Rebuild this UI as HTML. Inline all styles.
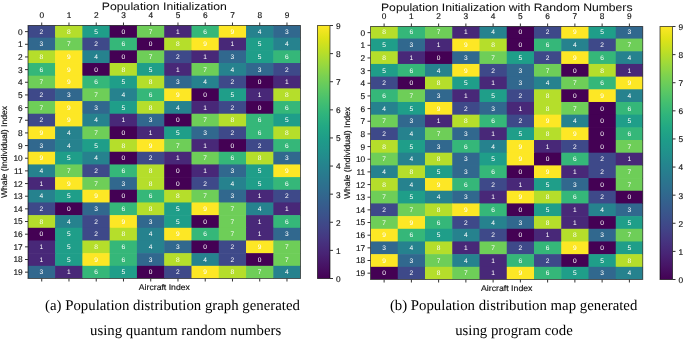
<!DOCTYPE html>
<html><head><meta charset="utf-8"><title>Population Initialization</title><style>
html,body{margin:0;padding:0;background:#fff;}
body{width:685px;height:339px;overflow:hidden;}
svg{display:block;will-change:transform;}
text{font-family:"Liberation Sans",sans-serif;text-rendering:geometricPrecision;}
.ann{font-size:6.6px;fill:#fff;text-anchor:middle;}
.tl{font-size:8.3px;fill:#111;stroke:#111;stroke-width:0.15px;}
.tt{font-size:10.8px;fill:#111;stroke:#111;stroke-width:0.05px;}
.lb{font-size:8.3px;fill:#111;stroke:#111;stroke-width:0.15px;}
.cp{font-family:"Liberation Serif",serif;font-size:14.8px;fill:#000;}
.tk{stroke:#333;stroke-width:1.0;}
</style></head>
<body><svg width="685" height="339" viewBox="0 0 685 339"><defs><filter id="soft" x="-5%" y="-5%" width="110%" height="110%"><feGaussianBlur stdDeviation="0.25"/></filter><linearGradient id="vir" x1="0" y1="0" x2="0" y2="1"><stop offset="0.000" stop-color="#fde725"/><stop offset="0.050" stop-color="#dfe318"/><stop offset="0.100" stop-color="#bddf26"/><stop offset="0.150" stop-color="#9bd93c"/><stop offset="0.200" stop-color="#7ad151"/><stop offset="0.250" stop-color="#5ec962"/><stop offset="0.300" stop-color="#44bf70"/><stop offset="0.350" stop-color="#2fb47c"/><stop offset="0.400" stop-color="#22a884"/><stop offset="0.450" stop-color="#1e9c89"/><stop offset="0.500" stop-color="#21918c"/><stop offset="0.550" stop-color="#25848e"/><stop offset="0.600" stop-color="#2a788e"/><stop offset="0.650" stop-color="#2f6c8e"/><stop offset="0.700" stop-color="#355f8d"/><stop offset="0.750" stop-color="#3b528b"/><stop offset="0.800" stop-color="#414487"/><stop offset="0.850" stop-color="#463480"/><stop offset="0.900" stop-color="#482475"/><stop offset="0.950" stop-color="#471365"/><stop offset="1.000" stop-color="#440154"/></linearGradient></defs><rect width="685" height="339" fill="#fff"/><clipPath id="clipL"><rect x="28.0" y="25.5" width="272.5" height="253.0"/></clipPath><g clip-path="url(#clipL)"><rect x="27.800" y="25.000" width="27.880" height="13.275" fill="#3e4989"/><rect x="55.080" y="25.000" width="27.880" height="13.275" fill="#b5de2b"/><rect x="82.360" y="25.000" width="27.880" height="13.275" fill="#1f9e89"/><rect x="109.640" y="25.000" width="27.880" height="13.275" fill="#440154"/><rect x="136.920" y="25.000" width="27.880" height="13.275" fill="#6ece58"/><rect x="164.200" y="25.000" width="27.880" height="13.275" fill="#482878"/><rect x="191.480" y="25.000" width="27.880" height="13.275" fill="#35b779"/><rect x="218.760" y="25.000" width="27.880" height="13.275" fill="#fde725"/><rect x="246.040" y="25.000" width="27.880" height="13.275" fill="#26828e"/><rect x="273.320" y="25.000" width="27.280" height="13.275" fill="#31688e"/><rect x="27.800" y="37.675" width="27.880" height="13.275" fill="#31688e"/><rect x="55.080" y="37.675" width="27.880" height="13.275" fill="#6ece58"/><rect x="82.360" y="37.675" width="27.880" height="13.275" fill="#3e4989"/><rect x="109.640" y="37.675" width="27.880" height="13.275" fill="#35b779"/><rect x="136.920" y="37.675" width="27.880" height="13.275" fill="#440154"/><rect x="164.200" y="37.675" width="27.880" height="13.275" fill="#b5de2b"/><rect x="191.480" y="37.675" width="27.880" height="13.275" fill="#fde725"/><rect x="218.760" y="37.675" width="27.880" height="13.275" fill="#482878"/><rect x="246.040" y="37.675" width="27.880" height="13.275" fill="#1f9e89"/><rect x="273.320" y="37.675" width="27.280" height="13.275" fill="#26828e"/><rect x="27.800" y="50.350" width="27.880" height="13.275" fill="#b5de2b"/><rect x="55.080" y="50.350" width="27.880" height="13.275" fill="#fde725"/><rect x="82.360" y="50.350" width="27.880" height="13.275" fill="#26828e"/><rect x="109.640" y="50.350" width="27.880" height="13.275" fill="#440154"/><rect x="136.920" y="50.350" width="27.880" height="13.275" fill="#6ece58"/><rect x="164.200" y="50.350" width="27.880" height="13.275" fill="#3e4989"/><rect x="191.480" y="50.350" width="27.880" height="13.275" fill="#482878"/><rect x="218.760" y="50.350" width="27.880" height="13.275" fill="#31688e"/><rect x="246.040" y="50.350" width="27.880" height="13.275" fill="#1f9e89"/><rect x="273.320" y="50.350" width="27.280" height="13.275" fill="#35b779"/><rect x="27.800" y="63.025" width="27.880" height="13.275" fill="#35b779"/><rect x="55.080" y="63.025" width="27.880" height="13.275" fill="#fde725"/><rect x="82.360" y="63.025" width="27.880" height="13.275" fill="#440154"/><rect x="109.640" y="63.025" width="27.880" height="13.275" fill="#b5de2b"/><rect x="136.920" y="63.025" width="27.880" height="13.275" fill="#1f9e89"/><rect x="164.200" y="63.025" width="27.880" height="13.275" fill="#482878"/><rect x="191.480" y="63.025" width="27.880" height="13.275" fill="#6ece58"/><rect x="218.760" y="63.025" width="27.880" height="13.275" fill="#26828e"/><rect x="246.040" y="63.025" width="27.880" height="13.275" fill="#31688e"/><rect x="273.320" y="63.025" width="27.280" height="13.275" fill="#3e4989"/><rect x="27.800" y="75.700" width="27.880" height="13.275" fill="#6ece58"/><rect x="55.080" y="75.700" width="27.880" height="13.275" fill="#fde725"/><rect x="82.360" y="75.700" width="27.880" height="13.275" fill="#35b779"/><rect x="109.640" y="75.700" width="27.880" height="13.275" fill="#1f9e89"/><rect x="136.920" y="75.700" width="27.880" height="13.275" fill="#b5de2b"/><rect x="164.200" y="75.700" width="27.880" height="13.275" fill="#31688e"/><rect x="191.480" y="75.700" width="27.880" height="13.275" fill="#26828e"/><rect x="218.760" y="75.700" width="27.880" height="13.275" fill="#3e4989"/><rect x="246.040" y="75.700" width="27.880" height="13.275" fill="#440154"/><rect x="273.320" y="75.700" width="27.280" height="13.275" fill="#482878"/><rect x="27.800" y="88.375" width="27.880" height="13.275" fill="#3e4989"/><rect x="55.080" y="88.375" width="27.880" height="13.275" fill="#31688e"/><rect x="82.360" y="88.375" width="27.880" height="13.275" fill="#6ece58"/><rect x="109.640" y="88.375" width="27.880" height="13.275" fill="#26828e"/><rect x="136.920" y="88.375" width="27.880" height="13.275" fill="#35b779"/><rect x="164.200" y="88.375" width="27.880" height="13.275" fill="#fde725"/><rect x="191.480" y="88.375" width="27.880" height="13.275" fill="#440154"/><rect x="218.760" y="88.375" width="27.880" height="13.275" fill="#1f9e89"/><rect x="246.040" y="88.375" width="27.880" height="13.275" fill="#482878"/><rect x="273.320" y="88.375" width="27.280" height="13.275" fill="#b5de2b"/><rect x="27.800" y="101.050" width="27.880" height="13.275" fill="#6ece58"/><rect x="55.080" y="101.050" width="27.880" height="13.275" fill="#fde725"/><rect x="82.360" y="101.050" width="27.880" height="13.275" fill="#31688e"/><rect x="109.640" y="101.050" width="27.880" height="13.275" fill="#1f9e89"/><rect x="136.920" y="101.050" width="27.880" height="13.275" fill="#b5de2b"/><rect x="164.200" y="101.050" width="27.880" height="13.275" fill="#26828e"/><rect x="191.480" y="101.050" width="27.880" height="13.275" fill="#482878"/><rect x="218.760" y="101.050" width="27.880" height="13.275" fill="#3e4989"/><rect x="246.040" y="101.050" width="27.880" height="13.275" fill="#440154"/><rect x="273.320" y="101.050" width="27.280" height="13.275" fill="#35b779"/><rect x="27.800" y="113.725" width="27.880" height="13.275" fill="#3e4989"/><rect x="55.080" y="113.725" width="27.880" height="13.275" fill="#fde725"/><rect x="82.360" y="113.725" width="27.880" height="13.275" fill="#26828e"/><rect x="109.640" y="113.725" width="27.880" height="13.275" fill="#482878"/><rect x="136.920" y="113.725" width="27.880" height="13.275" fill="#31688e"/><rect x="164.200" y="113.725" width="27.880" height="13.275" fill="#440154"/><rect x="191.480" y="113.725" width="27.880" height="13.275" fill="#6ece58"/><rect x="218.760" y="113.725" width="27.880" height="13.275" fill="#b5de2b"/><rect x="246.040" y="113.725" width="27.880" height="13.275" fill="#35b779"/><rect x="273.320" y="113.725" width="27.280" height="13.275" fill="#1f9e89"/><rect x="27.800" y="126.400" width="27.880" height="13.275" fill="#fde725"/><rect x="55.080" y="126.400" width="27.880" height="13.275" fill="#26828e"/><rect x="82.360" y="126.400" width="27.880" height="13.275" fill="#6ece58"/><rect x="109.640" y="126.400" width="27.880" height="13.275" fill="#440154"/><rect x="136.920" y="126.400" width="27.880" height="13.275" fill="#482878"/><rect x="164.200" y="126.400" width="27.880" height="13.275" fill="#1f9e89"/><rect x="191.480" y="126.400" width="27.880" height="13.275" fill="#31688e"/><rect x="218.760" y="126.400" width="27.880" height="13.275" fill="#3e4989"/><rect x="246.040" y="126.400" width="27.880" height="13.275" fill="#35b779"/><rect x="273.320" y="126.400" width="27.280" height="13.275" fill="#b5de2b"/><rect x="27.800" y="139.075" width="27.880" height="13.275" fill="#31688e"/><rect x="55.080" y="139.075" width="27.880" height="13.275" fill="#26828e"/><rect x="82.360" y="139.075" width="27.880" height="13.275" fill="#1f9e89"/><rect x="109.640" y="139.075" width="27.880" height="13.275" fill="#b5de2b"/><rect x="136.920" y="139.075" width="27.880" height="13.275" fill="#fde725"/><rect x="164.200" y="139.075" width="27.880" height="13.275" fill="#6ece58"/><rect x="191.480" y="139.075" width="27.880" height="13.275" fill="#482878"/><rect x="218.760" y="139.075" width="27.880" height="13.275" fill="#440154"/><rect x="246.040" y="139.075" width="27.880" height="13.275" fill="#3e4989"/><rect x="273.320" y="139.075" width="27.280" height="13.275" fill="#35b779"/><rect x="27.800" y="151.750" width="27.880" height="13.275" fill="#fde725"/><rect x="55.080" y="151.750" width="27.880" height="13.275" fill="#1f9e89"/><rect x="82.360" y="151.750" width="27.880" height="13.275" fill="#26828e"/><rect x="109.640" y="151.750" width="27.880" height="13.275" fill="#440154"/><rect x="136.920" y="151.750" width="27.880" height="13.275" fill="#3e4989"/><rect x="164.200" y="151.750" width="27.880" height="13.275" fill="#482878"/><rect x="191.480" y="151.750" width="27.880" height="13.275" fill="#6ece58"/><rect x="218.760" y="151.750" width="27.880" height="13.275" fill="#35b779"/><rect x="246.040" y="151.750" width="27.880" height="13.275" fill="#b5de2b"/><rect x="273.320" y="151.750" width="27.280" height="13.275" fill="#31688e"/><rect x="27.800" y="164.425" width="27.880" height="13.275" fill="#26828e"/><rect x="55.080" y="164.425" width="27.880" height="13.275" fill="#6ece58"/><rect x="82.360" y="164.425" width="27.880" height="13.275" fill="#3e4989"/><rect x="109.640" y="164.425" width="27.880" height="13.275" fill="#35b779"/><rect x="136.920" y="164.425" width="27.880" height="13.275" fill="#b5de2b"/><rect x="164.200" y="164.425" width="27.880" height="13.275" fill="#440154"/><rect x="191.480" y="164.425" width="27.880" height="13.275" fill="#482878"/><rect x="218.760" y="164.425" width="27.880" height="13.275" fill="#31688e"/><rect x="246.040" y="164.425" width="27.880" height="13.275" fill="#1f9e89"/><rect x="273.320" y="164.425" width="27.280" height="13.275" fill="#fde725"/><rect x="27.800" y="177.100" width="27.880" height="13.275" fill="#482878"/><rect x="55.080" y="177.100" width="27.880" height="13.275" fill="#fde725"/><rect x="82.360" y="177.100" width="27.880" height="13.275" fill="#6ece58"/><rect x="109.640" y="177.100" width="27.880" height="13.275" fill="#31688e"/><rect x="136.920" y="177.100" width="27.880" height="13.275" fill="#b5de2b"/><rect x="164.200" y="177.100" width="27.880" height="13.275" fill="#440154"/><rect x="191.480" y="177.100" width="27.880" height="13.275" fill="#3e4989"/><rect x="218.760" y="177.100" width="27.880" height="13.275" fill="#26828e"/><rect x="246.040" y="177.100" width="27.880" height="13.275" fill="#1f9e89"/><rect x="273.320" y="177.100" width="27.280" height="13.275" fill="#35b779"/><rect x="27.800" y="189.775" width="27.880" height="13.275" fill="#26828e"/><rect x="55.080" y="189.775" width="27.880" height="13.275" fill="#1f9e89"/><rect x="82.360" y="189.775" width="27.880" height="13.275" fill="#fde725"/><rect x="109.640" y="189.775" width="27.880" height="13.275" fill="#440154"/><rect x="136.920" y="189.775" width="27.880" height="13.275" fill="#35b779"/><rect x="164.200" y="189.775" width="27.880" height="13.275" fill="#b5de2b"/><rect x="191.480" y="189.775" width="27.880" height="13.275" fill="#6ece58"/><rect x="218.760" y="189.775" width="27.880" height="13.275" fill="#31688e"/><rect x="246.040" y="189.775" width="27.880" height="13.275" fill="#482878"/><rect x="273.320" y="189.775" width="27.280" height="13.275" fill="#3e4989"/><rect x="27.800" y="202.450" width="27.880" height="13.275" fill="#3e4989"/><rect x="55.080" y="202.450" width="27.880" height="13.275" fill="#440154"/><rect x="82.360" y="202.450" width="27.880" height="13.275" fill="#31688e"/><rect x="109.640" y="202.450" width="27.880" height="13.275" fill="#35b779"/><rect x="136.920" y="202.450" width="27.880" height="13.275" fill="#b5de2b"/><rect x="164.200" y="202.450" width="27.880" height="13.275" fill="#1f9e89"/><rect x="191.480" y="202.450" width="27.880" height="13.275" fill="#fde725"/><rect x="218.760" y="202.450" width="27.880" height="13.275" fill="#6ece58"/><rect x="246.040" y="202.450" width="27.880" height="13.275" fill="#26828e"/><rect x="273.320" y="202.450" width="27.280" height="13.275" fill="#482878"/><rect x="27.800" y="215.125" width="27.880" height="13.275" fill="#b5de2b"/><rect x="55.080" y="215.125" width="27.880" height="13.275" fill="#26828e"/><rect x="82.360" y="215.125" width="27.880" height="13.275" fill="#3e4989"/><rect x="109.640" y="215.125" width="27.880" height="13.275" fill="#fde725"/><rect x="136.920" y="215.125" width="27.880" height="13.275" fill="#31688e"/><rect x="164.200" y="215.125" width="27.880" height="13.275" fill="#1f9e89"/><rect x="191.480" y="215.125" width="27.880" height="13.275" fill="#440154"/><rect x="218.760" y="215.125" width="27.880" height="13.275" fill="#6ece58"/><rect x="246.040" y="215.125" width="27.880" height="13.275" fill="#482878"/><rect x="273.320" y="215.125" width="27.280" height="13.275" fill="#35b779"/><rect x="27.800" y="227.800" width="27.880" height="13.275" fill="#440154"/><rect x="55.080" y="227.800" width="27.880" height="13.275" fill="#1f9e89"/><rect x="82.360" y="227.800" width="27.880" height="13.275" fill="#3e4989"/><rect x="109.640" y="227.800" width="27.880" height="13.275" fill="#b5de2b"/><rect x="136.920" y="227.800" width="27.880" height="13.275" fill="#26828e"/><rect x="164.200" y="227.800" width="27.880" height="13.275" fill="#fde725"/><rect x="191.480" y="227.800" width="27.880" height="13.275" fill="#35b779"/><rect x="218.760" y="227.800" width="27.880" height="13.275" fill="#6ece58"/><rect x="246.040" y="227.800" width="27.880" height="13.275" fill="#482878"/><rect x="273.320" y="227.800" width="27.280" height="13.275" fill="#31688e"/><rect x="27.800" y="240.475" width="27.880" height="13.275" fill="#482878"/><rect x="55.080" y="240.475" width="27.880" height="13.275" fill="#1f9e89"/><rect x="82.360" y="240.475" width="27.880" height="13.275" fill="#b5de2b"/><rect x="109.640" y="240.475" width="27.880" height="13.275" fill="#35b779"/><rect x="136.920" y="240.475" width="27.880" height="13.275" fill="#26828e"/><rect x="164.200" y="240.475" width="27.880" height="13.275" fill="#31688e"/><rect x="191.480" y="240.475" width="27.880" height="13.275" fill="#440154"/><rect x="218.760" y="240.475" width="27.880" height="13.275" fill="#3e4989"/><rect x="246.040" y="240.475" width="27.880" height="13.275" fill="#fde725"/><rect x="273.320" y="240.475" width="27.280" height="13.275" fill="#6ece58"/><rect x="27.800" y="253.150" width="27.880" height="13.275" fill="#482878"/><rect x="55.080" y="253.150" width="27.880" height="13.275" fill="#1f9e89"/><rect x="82.360" y="253.150" width="27.880" height="13.275" fill="#fde725"/><rect x="109.640" y="253.150" width="27.880" height="13.275" fill="#35b779"/><rect x="136.920" y="253.150" width="27.880" height="13.275" fill="#31688e"/><rect x="164.200" y="253.150" width="27.880" height="13.275" fill="#b5de2b"/><rect x="191.480" y="253.150" width="27.880" height="13.275" fill="#26828e"/><rect x="218.760" y="253.150" width="27.880" height="13.275" fill="#3e4989"/><rect x="246.040" y="253.150" width="27.880" height="13.275" fill="#440154"/><rect x="273.320" y="253.150" width="27.280" height="13.275" fill="#6ece58"/><rect x="27.800" y="265.825" width="27.880" height="12.675" fill="#31688e"/><rect x="55.080" y="265.825" width="27.880" height="12.675" fill="#482878"/><rect x="82.360" y="265.825" width="27.880" height="12.675" fill="#35b779"/><rect x="109.640" y="265.825" width="27.880" height="12.675" fill="#1f9e89"/><rect x="136.920" y="265.825" width="27.880" height="12.675" fill="#440154"/><rect x="164.200" y="265.825" width="27.880" height="12.675" fill="#3e4989"/><rect x="191.480" y="265.825" width="27.880" height="12.675" fill="#fde725"/><rect x="218.760" y="265.825" width="27.880" height="12.675" fill="#b5de2b"/><rect x="246.040" y="265.825" width="27.880" height="12.675" fill="#6ece58"/><rect x="273.320" y="265.825" width="27.280" height="12.675" fill="#26828e"/></g><g filter="url(#soft)"><text class="ann" x="41.44" y="33.58">2</text><text class="ann" x="68.72" y="33.58">8</text><text class="ann" x="96.00" y="33.58">5</text><text class="ann" x="123.28" y="33.58">0</text><text class="ann" x="150.56" y="33.58">7</text><text class="ann" x="177.84" y="33.58">1</text><text class="ann" x="205.12" y="33.58">6</text><text class="ann" x="232.40" y="33.58">9</text><text class="ann" x="259.68" y="33.58">4</text><text class="ann" x="286.96" y="33.58">3</text><text class="ann" x="41.44" y="46.26">3</text><text class="ann" x="68.72" y="46.26">7</text><text class="ann" x="96.00" y="46.26">2</text><text class="ann" x="123.28" y="46.26">6</text><text class="ann" x="150.56" y="46.26">0</text><text class="ann" x="177.84" y="46.26">8</text><text class="ann" x="205.12" y="46.26">9</text><text class="ann" x="232.40" y="46.26">1</text><text class="ann" x="259.68" y="46.26">5</text><text class="ann" x="286.96" y="46.26">4</text><text class="ann" x="41.44" y="58.93">8</text><text class="ann" x="68.72" y="58.93">9</text><text class="ann" x="96.00" y="58.93">4</text><text class="ann" x="123.28" y="58.93">0</text><text class="ann" x="150.56" y="58.93">7</text><text class="ann" x="177.84" y="58.93">2</text><text class="ann" x="205.12" y="58.93">1</text><text class="ann" x="232.40" y="58.93">3</text><text class="ann" x="259.68" y="58.93">5</text><text class="ann" x="286.96" y="58.93">6</text><text class="ann" x="41.44" y="71.61">6</text><text class="ann" x="68.72" y="71.61">9</text><text class="ann" x="96.00" y="71.61">0</text><text class="ann" x="123.28" y="71.61">8</text><text class="ann" x="150.56" y="71.61">5</text><text class="ann" x="177.84" y="71.61">1</text><text class="ann" x="205.12" y="71.61">7</text><text class="ann" x="232.40" y="71.61">4</text><text class="ann" x="259.68" y="71.61">3</text><text class="ann" x="286.96" y="71.61">2</text><text class="ann" x="41.44" y="84.28">7</text><text class="ann" x="68.72" y="84.28">9</text><text class="ann" x="96.00" y="84.28">6</text><text class="ann" x="123.28" y="84.28">5</text><text class="ann" x="150.56" y="84.28">8</text><text class="ann" x="177.84" y="84.28">3</text><text class="ann" x="205.12" y="84.28">4</text><text class="ann" x="232.40" y="84.28">2</text><text class="ann" x="259.68" y="84.28">0</text><text class="ann" x="286.96" y="84.28">1</text><text class="ann" x="41.44" y="96.96">2</text><text class="ann" x="68.72" y="96.96">3</text><text class="ann" x="96.00" y="96.96">7</text><text class="ann" x="123.28" y="96.96">4</text><text class="ann" x="150.56" y="96.96">6</text><text class="ann" x="177.84" y="96.96">9</text><text class="ann" x="205.12" y="96.96">0</text><text class="ann" x="232.40" y="96.96">5</text><text class="ann" x="259.68" y="96.96">1</text><text class="ann" x="286.96" y="96.96">8</text><text class="ann" x="41.44" y="109.63">7</text><text class="ann" x="68.72" y="109.63">9</text><text class="ann" x="96.00" y="109.63">3</text><text class="ann" x="123.28" y="109.63">5</text><text class="ann" x="150.56" y="109.63">8</text><text class="ann" x="177.84" y="109.63">4</text><text class="ann" x="205.12" y="109.63">1</text><text class="ann" x="232.40" y="109.63">2</text><text class="ann" x="259.68" y="109.63">0</text><text class="ann" x="286.96" y="109.63">6</text><text class="ann" x="41.44" y="122.31">2</text><text class="ann" x="68.72" y="122.31">9</text><text class="ann" x="96.00" y="122.31">4</text><text class="ann" x="123.28" y="122.31">1</text><text class="ann" x="150.56" y="122.31">3</text><text class="ann" x="177.84" y="122.31">0</text><text class="ann" x="205.12" y="122.31">7</text><text class="ann" x="232.40" y="122.31">8</text><text class="ann" x="259.68" y="122.31">6</text><text class="ann" x="286.96" y="122.31">5</text><text class="ann" x="41.44" y="134.98">9</text><text class="ann" x="68.72" y="134.98">4</text><text class="ann" x="96.00" y="134.98">7</text><text class="ann" x="123.28" y="134.98">0</text><text class="ann" x="150.56" y="134.98">1</text><text class="ann" x="177.84" y="134.98">5</text><text class="ann" x="205.12" y="134.98">3</text><text class="ann" x="232.40" y="134.98">2</text><text class="ann" x="259.68" y="134.98">6</text><text class="ann" x="286.96" y="134.98">8</text><text class="ann" x="41.44" y="147.66">3</text><text class="ann" x="68.72" y="147.66">4</text><text class="ann" x="96.00" y="147.66">5</text><text class="ann" x="123.28" y="147.66">8</text><text class="ann" x="150.56" y="147.66">9</text><text class="ann" x="177.84" y="147.66">7</text><text class="ann" x="205.12" y="147.66">1</text><text class="ann" x="232.40" y="147.66">0</text><text class="ann" x="259.68" y="147.66">2</text><text class="ann" x="286.96" y="147.66">6</text><text class="ann" x="41.44" y="160.33">9</text><text class="ann" x="68.72" y="160.33">5</text><text class="ann" x="96.00" y="160.33">4</text><text class="ann" x="123.28" y="160.33">0</text><text class="ann" x="150.56" y="160.33">2</text><text class="ann" x="177.84" y="160.33">1</text><text class="ann" x="205.12" y="160.33">7</text><text class="ann" x="232.40" y="160.33">6</text><text class="ann" x="259.68" y="160.33">8</text><text class="ann" x="286.96" y="160.33">3</text><text class="ann" x="41.44" y="173.01">4</text><text class="ann" x="68.72" y="173.01">7</text><text class="ann" x="96.00" y="173.01">2</text><text class="ann" x="123.28" y="173.01">6</text><text class="ann" x="150.56" y="173.01">8</text><text class="ann" x="177.84" y="173.01">0</text><text class="ann" x="205.12" y="173.01">1</text><text class="ann" x="232.40" y="173.01">3</text><text class="ann" x="259.68" y="173.01">5</text><text class="ann" x="286.96" y="173.01">9</text><text class="ann" x="41.44" y="185.68">1</text><text class="ann" x="68.72" y="185.68">9</text><text class="ann" x="96.00" y="185.68">7</text><text class="ann" x="123.28" y="185.68">3</text><text class="ann" x="150.56" y="185.68">8</text><text class="ann" x="177.84" y="185.68">0</text><text class="ann" x="205.12" y="185.68">2</text><text class="ann" x="232.40" y="185.68">4</text><text class="ann" x="259.68" y="185.68">5</text><text class="ann" x="286.96" y="185.68">6</text><text class="ann" x="41.44" y="198.36">4</text><text class="ann" x="68.72" y="198.36">5</text><text class="ann" x="96.00" y="198.36">9</text><text class="ann" x="123.28" y="198.36">0</text><text class="ann" x="150.56" y="198.36">6</text><text class="ann" x="177.84" y="198.36">8</text><text class="ann" x="205.12" y="198.36">7</text><text class="ann" x="232.40" y="198.36">3</text><text class="ann" x="259.68" y="198.36">1</text><text class="ann" x="286.96" y="198.36">2</text><text class="ann" x="41.44" y="211.03">2</text><text class="ann" x="68.72" y="211.03">0</text><text class="ann" x="96.00" y="211.03">3</text><text class="ann" x="123.28" y="211.03">6</text><text class="ann" x="150.56" y="211.03">8</text><text class="ann" x="177.84" y="211.03">5</text><text class="ann" x="205.12" y="211.03">9</text><text class="ann" x="232.40" y="211.03">7</text><text class="ann" x="259.68" y="211.03">4</text><text class="ann" x="286.96" y="211.03">1</text><text class="ann" x="41.44" y="223.71">8</text><text class="ann" x="68.72" y="223.71">4</text><text class="ann" x="96.00" y="223.71">2</text><text class="ann" x="123.28" y="223.71">9</text><text class="ann" x="150.56" y="223.71">3</text><text class="ann" x="177.84" y="223.71">5</text><text class="ann" x="205.12" y="223.71">0</text><text class="ann" x="232.40" y="223.71">7</text><text class="ann" x="259.68" y="223.71">1</text><text class="ann" x="286.96" y="223.71">6</text><text class="ann" x="41.44" y="236.38">0</text><text class="ann" x="68.72" y="236.38">5</text><text class="ann" x="96.00" y="236.38">2</text><text class="ann" x="123.28" y="236.38">8</text><text class="ann" x="150.56" y="236.38">4</text><text class="ann" x="177.84" y="236.38">9</text><text class="ann" x="205.12" y="236.38">6</text><text class="ann" x="232.40" y="236.38">7</text><text class="ann" x="259.68" y="236.38">1</text><text class="ann" x="286.96" y="236.38">3</text><text class="ann" x="41.44" y="249.06">1</text><text class="ann" x="68.72" y="249.06">5</text><text class="ann" x="96.00" y="249.06">8</text><text class="ann" x="123.28" y="249.06">6</text><text class="ann" x="150.56" y="249.06">4</text><text class="ann" x="177.84" y="249.06">3</text><text class="ann" x="205.12" y="249.06">0</text><text class="ann" x="232.40" y="249.06">2</text><text class="ann" x="259.68" y="249.06">9</text><text class="ann" x="286.96" y="249.06">7</text><text class="ann" x="41.44" y="261.73">1</text><text class="ann" x="68.72" y="261.73">5</text><text class="ann" x="96.00" y="261.73">9</text><text class="ann" x="123.28" y="261.73">6</text><text class="ann" x="150.56" y="261.73">3</text><text class="ann" x="177.84" y="261.73">8</text><text class="ann" x="205.12" y="261.73">4</text><text class="ann" x="232.40" y="261.73">2</text><text class="ann" x="259.68" y="261.73">0</text><text class="ann" x="286.96" y="261.73">7</text><text class="ann" x="41.44" y="274.41">3</text><text class="ann" x="68.72" y="274.41">1</text><text class="ann" x="96.00" y="274.41">6</text><text class="ann" x="123.28" y="274.41">5</text><text class="ann" x="150.56" y="274.41">0</text><text class="ann" x="177.84" y="274.41">2</text><text class="ann" x="205.12" y="274.41">9</text><text class="ann" x="232.40" y="274.41">8</text><text class="ann" x="259.68" y="274.41">7</text><text class="ann" x="286.96" y="274.41">4</text></g><rect x="28.0" y="25.5" width="272.5" height="253.0" fill="none" stroke="#000" stroke-opacity="0.62" stroke-width="1.0"/><line x1="41.73" y1="22.50" x2="41.73" y2="25.5" class="tk"/><line x1="41.73" y1="278.5" x2="41.73" y2="281.50" class="tk"/><text class="tl" x="41.73" y="18.40" text-anchor="middle">0</text><line x1="68.97" y1="22.50" x2="68.97" y2="25.5" class="tk"/><line x1="68.97" y1="278.5" x2="68.97" y2="281.50" class="tk"/><text class="tl" x="68.97" y="18.40" text-anchor="middle">1</text><line x1="96.22" y1="22.50" x2="96.22" y2="25.5" class="tk"/><line x1="96.22" y1="278.5" x2="96.22" y2="281.50" class="tk"/><text class="tl" x="96.22" y="18.40" text-anchor="middle">2</text><line x1="123.47" y1="22.50" x2="123.47" y2="25.5" class="tk"/><line x1="123.47" y1="278.5" x2="123.47" y2="281.50" class="tk"/><text class="tl" x="123.47" y="18.40" text-anchor="middle">3</text><line x1="150.72" y1="22.50" x2="150.72" y2="25.5" class="tk"/><line x1="150.72" y1="278.5" x2="150.72" y2="281.50" class="tk"/><text class="tl" x="150.72" y="18.40" text-anchor="middle">4</text><line x1="177.97" y1="22.50" x2="177.97" y2="25.5" class="tk"/><line x1="177.97" y1="278.5" x2="177.97" y2="281.50" class="tk"/><text class="tl" x="177.97" y="18.40" text-anchor="middle">5</text><line x1="205.22" y1="22.50" x2="205.22" y2="25.5" class="tk"/><line x1="205.22" y1="278.5" x2="205.22" y2="281.50" class="tk"/><text class="tl" x="205.22" y="18.40" text-anchor="middle">6</text><line x1="232.47" y1="22.50" x2="232.47" y2="25.5" class="tk"/><line x1="232.47" y1="278.5" x2="232.47" y2="281.50" class="tk"/><text class="tl" x="232.47" y="18.40" text-anchor="middle">7</text><line x1="259.73" y1="22.50" x2="259.73" y2="25.5" class="tk"/><line x1="259.73" y1="278.5" x2="259.73" y2="281.50" class="tk"/><text class="tl" x="259.73" y="18.40" text-anchor="middle">8</text><line x1="286.98" y1="22.50" x2="286.98" y2="25.5" class="tk"/><line x1="286.98" y1="278.5" x2="286.98" y2="281.50" class="tk"/><text class="tl" x="286.98" y="18.40" text-anchor="middle">9</text><line x1="25.00" y1="31.63" x2="28.0" y2="31.63" class="tk"/><text class="tl" x="22.70" y="34.58" text-anchor="end">0</text><line x1="25.00" y1="44.29" x2="28.0" y2="44.29" class="tk"/><text class="tl" x="22.70" y="47.24" text-anchor="end">1</text><line x1="25.00" y1="56.95" x2="28.0" y2="56.95" class="tk"/><text class="tl" x="22.70" y="59.90" text-anchor="end">2</text><line x1="25.00" y1="69.61" x2="28.0" y2="69.61" class="tk"/><text class="tl" x="22.70" y="72.56" text-anchor="end">3</text><line x1="25.00" y1="82.27" x2="28.0" y2="82.27" class="tk"/><text class="tl" x="22.70" y="85.22" text-anchor="end">4</text><line x1="25.00" y1="94.93" x2="28.0" y2="94.93" class="tk"/><text class="tl" x="22.70" y="97.88" text-anchor="end">5</text><line x1="25.00" y1="107.59" x2="28.0" y2="107.59" class="tk"/><text class="tl" x="22.70" y="110.54" text-anchor="end">6</text><line x1="25.00" y1="120.25" x2="28.0" y2="120.25" class="tk"/><text class="tl" x="22.70" y="123.20" text-anchor="end">7</text><line x1="25.00" y1="132.91" x2="28.0" y2="132.91" class="tk"/><text class="tl" x="22.70" y="135.86" text-anchor="end">8</text><line x1="25.00" y1="145.57" x2="28.0" y2="145.57" class="tk"/><text class="tl" x="22.70" y="148.52" text-anchor="end">9</text><line x1="25.00" y1="158.23" x2="28.0" y2="158.23" class="tk"/><text class="tl" x="22.70" y="161.18" text-anchor="end">10</text><line x1="25.00" y1="170.89" x2="28.0" y2="170.89" class="tk"/><text class="tl" x="22.70" y="173.84" text-anchor="end">11</text><line x1="25.00" y1="183.55" x2="28.0" y2="183.55" class="tk"/><text class="tl" x="22.70" y="186.50" text-anchor="end">12</text><line x1="25.00" y1="196.21" x2="28.0" y2="196.21" class="tk"/><text class="tl" x="22.70" y="199.16" text-anchor="end">13</text><line x1="25.00" y1="208.87" x2="28.0" y2="208.87" class="tk"/><text class="tl" x="22.70" y="211.82" text-anchor="end">14</text><line x1="25.00" y1="221.53" x2="28.0" y2="221.53" class="tk"/><text class="tl" x="22.70" y="224.48" text-anchor="end">15</text><line x1="25.00" y1="234.19" x2="28.0" y2="234.19" class="tk"/><text class="tl" x="22.70" y="237.14" text-anchor="end">16</text><line x1="25.00" y1="246.85" x2="28.0" y2="246.85" class="tk"/><text class="tl" x="22.70" y="249.80" text-anchor="end">17</text><line x1="25.00" y1="259.51" x2="28.0" y2="259.51" class="tk"/><text class="tl" x="22.70" y="262.46" text-anchor="end">18</text><line x1="25.00" y1="272.17" x2="28.0" y2="272.17" class="tk"/><text class="tl" x="22.70" y="275.12" text-anchor="end">19</text><text class="tt" x="164.35" y="9.5" text-anchor="middle" textLength="125" lengthAdjust="spacingAndGlyphs">Population Initialization</text><text class="lb" x="164.35" y="290.0" text-anchor="middle" textLength="51.0" lengthAdjust="spacingAndGlyphs">Aircraft Index</text><text class="lb" transform="translate(7.2,152.00) rotate(-90)" x="0" y="0" text-anchor="middle" textLength="92" lengthAdjust="spacingAndGlyphs">Whale (Individual) Index</text><rect x="317.5" y="25.5" width="12.5" height="253.0" fill="url(#vir)" stroke="#000" stroke-opacity="0.62" stroke-width="1.0"/><line x1="330.0" y1="278.50" x2="333.00" y2="278.50" class="tk"/><text class="tl" x="336.00" y="281.85">0</text><line x1="330.0" y1="250.39" x2="333.00" y2="250.39" class="tk"/><text class="tl" x="336.00" y="253.74">1</text><line x1="330.0" y1="222.28" x2="333.00" y2="222.28" class="tk"/><text class="tl" x="336.00" y="225.62">2</text><line x1="330.0" y1="194.17" x2="333.00" y2="194.17" class="tk"/><text class="tl" x="336.00" y="197.51">3</text><line x1="330.0" y1="166.06" x2="333.00" y2="166.06" class="tk"/><text class="tl" x="336.00" y="169.40">4</text><line x1="330.0" y1="137.94" x2="333.00" y2="137.94" class="tk"/><text class="tl" x="336.00" y="141.29">5</text><line x1="330.0" y1="109.83" x2="333.00" y2="109.83" class="tk"/><text class="tl" x="336.00" y="113.18">6</text><line x1="330.0" y1="81.72" x2="333.00" y2="81.72" class="tk"/><text class="tl" x="336.00" y="85.07">7</text><line x1="330.0" y1="53.61" x2="333.00" y2="53.61" class="tk"/><text class="tl" x="336.00" y="56.96">8</text><line x1="330.0" y1="25.50" x2="333.00" y2="25.50" class="tk"/><text class="tl" x="336.00" y="28.85">9</text><clipPath id="clipR"><rect x="370.5" y="26.5" width="272.20000000000005" height="253.0"/></clipPath><g clip-path="url(#clipR)"><rect x="370.500" y="25.900" width="27.850" height="13.280" fill="#b5de2b"/><rect x="397.750" y="25.900" width="27.850" height="13.280" fill="#35b779"/><rect x="425.000" y="25.900" width="27.850" height="13.280" fill="#6ece58"/><rect x="452.250" y="25.900" width="27.850" height="13.280" fill="#482878"/><rect x="479.500" y="25.900" width="27.850" height="13.280" fill="#26828e"/><rect x="506.750" y="25.900" width="27.850" height="13.280" fill="#440154"/><rect x="534.000" y="25.900" width="27.850" height="13.280" fill="#3e4989"/><rect x="561.250" y="25.900" width="27.850" height="13.280" fill="#fde725"/><rect x="588.500" y="25.900" width="27.850" height="13.280" fill="#1f9e89"/><rect x="615.750" y="25.900" width="27.250" height="13.280" fill="#31688e"/><rect x="370.500" y="38.580" width="27.850" height="13.280" fill="#1f9e89"/><rect x="397.750" y="38.580" width="27.850" height="13.280" fill="#31688e"/><rect x="425.000" y="38.580" width="27.850" height="13.280" fill="#482878"/><rect x="452.250" y="38.580" width="27.850" height="13.280" fill="#fde725"/><rect x="479.500" y="38.580" width="27.850" height="13.280" fill="#b5de2b"/><rect x="506.750" y="38.580" width="27.850" height="13.280" fill="#440154"/><rect x="534.000" y="38.580" width="27.850" height="13.280" fill="#35b779"/><rect x="561.250" y="38.580" width="27.850" height="13.280" fill="#26828e"/><rect x="588.500" y="38.580" width="27.850" height="13.280" fill="#3e4989"/><rect x="615.750" y="38.580" width="27.250" height="13.280" fill="#6ece58"/><rect x="370.500" y="51.260" width="27.850" height="13.280" fill="#b5de2b"/><rect x="397.750" y="51.260" width="27.850" height="13.280" fill="#482878"/><rect x="425.000" y="51.260" width="27.850" height="13.280" fill="#440154"/><rect x="452.250" y="51.260" width="27.850" height="13.280" fill="#31688e"/><rect x="479.500" y="51.260" width="27.850" height="13.280" fill="#6ece58"/><rect x="506.750" y="51.260" width="27.850" height="13.280" fill="#1f9e89"/><rect x="534.000" y="51.260" width="27.850" height="13.280" fill="#3e4989"/><rect x="561.250" y="51.260" width="27.850" height="13.280" fill="#fde725"/><rect x="588.500" y="51.260" width="27.850" height="13.280" fill="#35b779"/><rect x="615.750" y="51.260" width="27.250" height="13.280" fill="#26828e"/><rect x="370.500" y="63.940" width="27.850" height="13.280" fill="#1f9e89"/><rect x="397.750" y="63.940" width="27.850" height="13.280" fill="#35b779"/><rect x="425.000" y="63.940" width="27.850" height="13.280" fill="#26828e"/><rect x="452.250" y="63.940" width="27.850" height="13.280" fill="#fde725"/><rect x="479.500" y="63.940" width="27.850" height="13.280" fill="#3e4989"/><rect x="506.750" y="63.940" width="27.850" height="13.280" fill="#31688e"/><rect x="534.000" y="63.940" width="27.850" height="13.280" fill="#6ece58"/><rect x="561.250" y="63.940" width="27.850" height="13.280" fill="#440154"/><rect x="588.500" y="63.940" width="27.850" height="13.280" fill="#b5de2b"/><rect x="615.750" y="63.940" width="27.250" height="13.280" fill="#482878"/><rect x="370.500" y="76.620" width="27.850" height="13.280" fill="#3e4989"/><rect x="397.750" y="76.620" width="27.850" height="13.280" fill="#440154"/><rect x="425.000" y="76.620" width="27.850" height="13.280" fill="#b5de2b"/><rect x="452.250" y="76.620" width="27.850" height="13.280" fill="#1f9e89"/><rect x="479.500" y="76.620" width="27.850" height="13.280" fill="#482878"/><rect x="506.750" y="76.620" width="27.850" height="13.280" fill="#31688e"/><rect x="534.000" y="76.620" width="27.850" height="13.280" fill="#26828e"/><rect x="561.250" y="76.620" width="27.850" height="13.280" fill="#6ece58"/><rect x="588.500" y="76.620" width="27.850" height="13.280" fill="#35b779"/><rect x="615.750" y="76.620" width="27.250" height="13.280" fill="#fde725"/><rect x="370.500" y="89.300" width="27.850" height="13.280" fill="#35b779"/><rect x="397.750" y="89.300" width="27.850" height="13.280" fill="#6ece58"/><rect x="425.000" y="89.300" width="27.850" height="13.280" fill="#31688e"/><rect x="452.250" y="89.300" width="27.850" height="13.280" fill="#482878"/><rect x="479.500" y="89.300" width="27.850" height="13.280" fill="#1f9e89"/><rect x="506.750" y="89.300" width="27.850" height="13.280" fill="#3e4989"/><rect x="534.000" y="89.300" width="27.850" height="13.280" fill="#b5de2b"/><rect x="561.250" y="89.300" width="27.850" height="13.280" fill="#440154"/><rect x="588.500" y="89.300" width="27.850" height="13.280" fill="#fde725"/><rect x="615.750" y="89.300" width="27.250" height="13.280" fill="#26828e"/><rect x="370.500" y="101.980" width="27.850" height="13.280" fill="#26828e"/><rect x="397.750" y="101.980" width="27.850" height="13.280" fill="#1f9e89"/><rect x="425.000" y="101.980" width="27.850" height="13.280" fill="#fde725"/><rect x="452.250" y="101.980" width="27.850" height="13.280" fill="#3e4989"/><rect x="479.500" y="101.980" width="27.850" height="13.280" fill="#31688e"/><rect x="506.750" y="101.980" width="27.850" height="13.280" fill="#482878"/><rect x="534.000" y="101.980" width="27.850" height="13.280" fill="#b5de2b"/><rect x="561.250" y="101.980" width="27.850" height="13.280" fill="#6ece58"/><rect x="588.500" y="101.980" width="27.850" height="13.280" fill="#440154"/><rect x="615.750" y="101.980" width="27.250" height="13.280" fill="#35b779"/><rect x="370.500" y="114.660" width="27.850" height="13.280" fill="#6ece58"/><rect x="397.750" y="114.660" width="27.850" height="13.280" fill="#31688e"/><rect x="425.000" y="114.660" width="27.850" height="13.280" fill="#482878"/><rect x="452.250" y="114.660" width="27.850" height="13.280" fill="#b5de2b"/><rect x="479.500" y="114.660" width="27.850" height="13.280" fill="#35b779"/><rect x="506.750" y="114.660" width="27.850" height="13.280" fill="#3e4989"/><rect x="534.000" y="114.660" width="27.850" height="13.280" fill="#fde725"/><rect x="561.250" y="114.660" width="27.850" height="13.280" fill="#26828e"/><rect x="588.500" y="114.660" width="27.850" height="13.280" fill="#440154"/><rect x="615.750" y="114.660" width="27.250" height="13.280" fill="#1f9e89"/><rect x="370.500" y="127.340" width="27.850" height="13.280" fill="#3e4989"/><rect x="397.750" y="127.340" width="27.850" height="13.280" fill="#26828e"/><rect x="425.000" y="127.340" width="27.850" height="13.280" fill="#6ece58"/><rect x="452.250" y="127.340" width="27.850" height="13.280" fill="#31688e"/><rect x="479.500" y="127.340" width="27.850" height="13.280" fill="#482878"/><rect x="506.750" y="127.340" width="27.850" height="13.280" fill="#1f9e89"/><rect x="534.000" y="127.340" width="27.850" height="13.280" fill="#b5de2b"/><rect x="561.250" y="127.340" width="27.850" height="13.280" fill="#fde725"/><rect x="588.500" y="127.340" width="27.850" height="13.280" fill="#440154"/><rect x="615.750" y="127.340" width="27.250" height="13.280" fill="#35b779"/><rect x="370.500" y="140.020" width="27.850" height="13.280" fill="#b5de2b"/><rect x="397.750" y="140.020" width="27.850" height="13.280" fill="#1f9e89"/><rect x="425.000" y="140.020" width="27.850" height="13.280" fill="#31688e"/><rect x="452.250" y="140.020" width="27.850" height="13.280" fill="#35b779"/><rect x="479.500" y="140.020" width="27.850" height="13.280" fill="#26828e"/><rect x="506.750" y="140.020" width="27.850" height="13.280" fill="#fde725"/><rect x="534.000" y="140.020" width="27.850" height="13.280" fill="#482878"/><rect x="561.250" y="140.020" width="27.850" height="13.280" fill="#3e4989"/><rect x="588.500" y="140.020" width="27.850" height="13.280" fill="#440154"/><rect x="615.750" y="140.020" width="27.250" height="13.280" fill="#6ece58"/><rect x="370.500" y="152.700" width="27.850" height="13.280" fill="#6ece58"/><rect x="397.750" y="152.700" width="27.850" height="13.280" fill="#26828e"/><rect x="425.000" y="152.700" width="27.850" height="13.280" fill="#b5de2b"/><rect x="452.250" y="152.700" width="27.850" height="13.280" fill="#31688e"/><rect x="479.500" y="152.700" width="27.850" height="13.280" fill="#1f9e89"/><rect x="506.750" y="152.700" width="27.850" height="13.280" fill="#fde725"/><rect x="534.000" y="152.700" width="27.850" height="13.280" fill="#440154"/><rect x="561.250" y="152.700" width="27.850" height="13.280" fill="#35b779"/><rect x="588.500" y="152.700" width="27.850" height="13.280" fill="#3e4989"/><rect x="615.750" y="152.700" width="27.250" height="13.280" fill="#482878"/><rect x="370.500" y="165.380" width="27.850" height="13.280" fill="#26828e"/><rect x="397.750" y="165.380" width="27.850" height="13.280" fill="#b5de2b"/><rect x="425.000" y="165.380" width="27.850" height="13.280" fill="#1f9e89"/><rect x="452.250" y="165.380" width="27.850" height="13.280" fill="#31688e"/><rect x="479.500" y="165.380" width="27.850" height="13.280" fill="#35b779"/><rect x="506.750" y="165.380" width="27.850" height="13.280" fill="#440154"/><rect x="534.000" y="165.380" width="27.850" height="13.280" fill="#fde725"/><rect x="561.250" y="165.380" width="27.850" height="13.280" fill="#482878"/><rect x="588.500" y="165.380" width="27.850" height="13.280" fill="#3e4989"/><rect x="615.750" y="165.380" width="27.250" height="13.280" fill="#6ece58"/><rect x="370.500" y="178.060" width="27.850" height="13.280" fill="#b5de2b"/><rect x="397.750" y="178.060" width="27.850" height="13.280" fill="#26828e"/><rect x="425.000" y="178.060" width="27.850" height="13.280" fill="#fde725"/><rect x="452.250" y="178.060" width="27.850" height="13.280" fill="#35b779"/><rect x="479.500" y="178.060" width="27.850" height="13.280" fill="#3e4989"/><rect x="506.750" y="178.060" width="27.850" height="13.280" fill="#482878"/><rect x="534.000" y="178.060" width="27.850" height="13.280" fill="#1f9e89"/><rect x="561.250" y="178.060" width="27.850" height="13.280" fill="#31688e"/><rect x="588.500" y="178.060" width="27.850" height="13.280" fill="#440154"/><rect x="615.750" y="178.060" width="27.250" height="13.280" fill="#6ece58"/><rect x="370.500" y="190.740" width="27.850" height="13.280" fill="#6ece58"/><rect x="397.750" y="190.740" width="27.850" height="13.280" fill="#1f9e89"/><rect x="425.000" y="190.740" width="27.850" height="13.280" fill="#26828e"/><rect x="452.250" y="190.740" width="27.850" height="13.280" fill="#31688e"/><rect x="479.500" y="190.740" width="27.850" height="13.280" fill="#482878"/><rect x="506.750" y="190.740" width="27.850" height="13.280" fill="#fde725"/><rect x="534.000" y="190.740" width="27.850" height="13.280" fill="#b5de2b"/><rect x="561.250" y="190.740" width="27.850" height="13.280" fill="#35b779"/><rect x="588.500" y="190.740" width="27.850" height="13.280" fill="#3e4989"/><rect x="615.750" y="190.740" width="27.250" height="13.280" fill="#440154"/><rect x="370.500" y="203.420" width="27.850" height="13.280" fill="#3e4989"/><rect x="397.750" y="203.420" width="27.850" height="13.280" fill="#6ece58"/><rect x="425.000" y="203.420" width="27.850" height="13.280" fill="#b5de2b"/><rect x="452.250" y="203.420" width="27.850" height="13.280" fill="#fde725"/><rect x="479.500" y="203.420" width="27.850" height="13.280" fill="#35b779"/><rect x="506.750" y="203.420" width="27.850" height="13.280" fill="#440154"/><rect x="534.000" y="203.420" width="27.850" height="13.280" fill="#1f9e89"/><rect x="561.250" y="203.420" width="27.850" height="13.280" fill="#482878"/><rect x="588.500" y="203.420" width="27.850" height="13.280" fill="#26828e"/><rect x="615.750" y="203.420" width="27.250" height="13.280" fill="#31688e"/><rect x="370.500" y="216.100" width="27.850" height="13.280" fill="#6ece58"/><rect x="397.750" y="216.100" width="27.850" height="13.280" fill="#fde725"/><rect x="425.000" y="216.100" width="27.850" height="13.280" fill="#35b779"/><rect x="452.250" y="216.100" width="27.850" height="13.280" fill="#3e4989"/><rect x="479.500" y="216.100" width="27.850" height="13.280" fill="#26828e"/><rect x="506.750" y="216.100" width="27.850" height="13.280" fill="#31688e"/><rect x="534.000" y="216.100" width="27.850" height="13.280" fill="#b5de2b"/><rect x="561.250" y="216.100" width="27.850" height="13.280" fill="#482878"/><rect x="588.500" y="216.100" width="27.850" height="13.280" fill="#440154"/><rect x="615.750" y="216.100" width="27.250" height="13.280" fill="#1f9e89"/><rect x="370.500" y="228.780" width="27.850" height="13.280" fill="#fde725"/><rect x="397.750" y="228.780" width="27.850" height="13.280" fill="#35b779"/><rect x="425.000" y="228.780" width="27.850" height="13.280" fill="#1f9e89"/><rect x="452.250" y="228.780" width="27.850" height="13.280" fill="#26828e"/><rect x="479.500" y="228.780" width="27.850" height="13.280" fill="#3e4989"/><rect x="506.750" y="228.780" width="27.850" height="13.280" fill="#440154"/><rect x="534.000" y="228.780" width="27.850" height="13.280" fill="#482878"/><rect x="561.250" y="228.780" width="27.850" height="13.280" fill="#b5de2b"/><rect x="588.500" y="228.780" width="27.850" height="13.280" fill="#31688e"/><rect x="615.750" y="228.780" width="27.250" height="13.280" fill="#6ece58"/><rect x="370.500" y="241.460" width="27.850" height="13.280" fill="#31688e"/><rect x="397.750" y="241.460" width="27.850" height="13.280" fill="#26828e"/><rect x="425.000" y="241.460" width="27.850" height="13.280" fill="#b5de2b"/><rect x="452.250" y="241.460" width="27.850" height="13.280" fill="#482878"/><rect x="479.500" y="241.460" width="27.850" height="13.280" fill="#6ece58"/><rect x="506.750" y="241.460" width="27.850" height="13.280" fill="#3e4989"/><rect x="534.000" y="241.460" width="27.850" height="13.280" fill="#35b779"/><rect x="561.250" y="241.460" width="27.850" height="13.280" fill="#fde725"/><rect x="588.500" y="241.460" width="27.850" height="13.280" fill="#440154"/><rect x="615.750" y="241.460" width="27.250" height="13.280" fill="#1f9e89"/><rect x="370.500" y="254.140" width="27.850" height="13.280" fill="#fde725"/><rect x="397.750" y="254.140" width="27.850" height="13.280" fill="#31688e"/><rect x="425.000" y="254.140" width="27.850" height="13.280" fill="#6ece58"/><rect x="452.250" y="254.140" width="27.850" height="13.280" fill="#26828e"/><rect x="479.500" y="254.140" width="27.850" height="13.280" fill="#482878"/><rect x="506.750" y="254.140" width="27.850" height="13.280" fill="#35b779"/><rect x="534.000" y="254.140" width="27.850" height="13.280" fill="#3e4989"/><rect x="561.250" y="254.140" width="27.850" height="13.280" fill="#440154"/><rect x="588.500" y="254.140" width="27.850" height="13.280" fill="#1f9e89"/><rect x="615.750" y="254.140" width="27.250" height="13.280" fill="#b5de2b"/><rect x="370.500" y="266.820" width="27.850" height="12.680" fill="#440154"/><rect x="397.750" y="266.820" width="27.850" height="12.680" fill="#3e4989"/><rect x="425.000" y="266.820" width="27.850" height="12.680" fill="#b5de2b"/><rect x="452.250" y="266.820" width="27.850" height="12.680" fill="#6ece58"/><rect x="479.500" y="266.820" width="27.850" height="12.680" fill="#482878"/><rect x="506.750" y="266.820" width="27.850" height="12.680" fill="#fde725"/><rect x="534.000" y="266.820" width="27.850" height="12.680" fill="#35b779"/><rect x="561.250" y="266.820" width="27.850" height="12.680" fill="#1f9e89"/><rect x="588.500" y="266.820" width="27.850" height="12.680" fill="#31688e"/><rect x="615.750" y="266.820" width="27.250" height="12.680" fill="#26828e"/></g><g filter="url(#soft)"><text class="ann" x="384.12" y="34.48">8</text><text class="ann" x="411.38" y="34.48">6</text><text class="ann" x="438.62" y="34.48">7</text><text class="ann" x="465.88" y="34.48">1</text><text class="ann" x="493.12" y="34.48">4</text><text class="ann" x="520.38" y="34.48">0</text><text class="ann" x="547.62" y="34.48">2</text><text class="ann" x="574.88" y="34.48">9</text><text class="ann" x="602.12" y="34.48">5</text><text class="ann" x="629.38" y="34.48">3</text><text class="ann" x="384.12" y="47.16">5</text><text class="ann" x="411.38" y="47.16">3</text><text class="ann" x="438.62" y="47.16">1</text><text class="ann" x="465.88" y="47.16">9</text><text class="ann" x="493.12" y="47.16">8</text><text class="ann" x="520.38" y="47.16">0</text><text class="ann" x="547.62" y="47.16">6</text><text class="ann" x="574.88" y="47.16">4</text><text class="ann" x="602.12" y="47.16">2</text><text class="ann" x="629.38" y="47.16">7</text><text class="ann" x="384.12" y="59.84">8</text><text class="ann" x="411.38" y="59.84">1</text><text class="ann" x="438.62" y="59.84">0</text><text class="ann" x="465.88" y="59.84">3</text><text class="ann" x="493.12" y="59.84">7</text><text class="ann" x="520.38" y="59.84">5</text><text class="ann" x="547.62" y="59.84">2</text><text class="ann" x="574.88" y="59.84">9</text><text class="ann" x="602.12" y="59.84">6</text><text class="ann" x="629.38" y="59.84">4</text><text class="ann" x="384.12" y="72.52">5</text><text class="ann" x="411.38" y="72.52">6</text><text class="ann" x="438.62" y="72.52">4</text><text class="ann" x="465.88" y="72.52">9</text><text class="ann" x="493.12" y="72.52">2</text><text class="ann" x="520.38" y="72.52">3</text><text class="ann" x="547.62" y="72.52">7</text><text class="ann" x="574.88" y="72.52">0</text><text class="ann" x="602.12" y="72.52">8</text><text class="ann" x="629.38" y="72.52">1</text><text class="ann" x="384.12" y="85.20">2</text><text class="ann" x="411.38" y="85.20">0</text><text class="ann" x="438.62" y="85.20">8</text><text class="ann" x="465.88" y="85.20">5</text><text class="ann" x="493.12" y="85.20">1</text><text class="ann" x="520.38" y="85.20">3</text><text class="ann" x="547.62" y="85.20">4</text><text class="ann" x="574.88" y="85.20">7</text><text class="ann" x="602.12" y="85.20">6</text><text class="ann" x="629.38" y="85.20">9</text><text class="ann" x="384.12" y="97.88">6</text><text class="ann" x="411.38" y="97.88">7</text><text class="ann" x="438.62" y="97.88">3</text><text class="ann" x="465.88" y="97.88">1</text><text class="ann" x="493.12" y="97.88">5</text><text class="ann" x="520.38" y="97.88">2</text><text class="ann" x="547.62" y="97.88">8</text><text class="ann" x="574.88" y="97.88">0</text><text class="ann" x="602.12" y="97.88">9</text><text class="ann" x="629.38" y="97.88">4</text><text class="ann" x="384.12" y="110.56">4</text><text class="ann" x="411.38" y="110.56">5</text><text class="ann" x="438.62" y="110.56">9</text><text class="ann" x="465.88" y="110.56">2</text><text class="ann" x="493.12" y="110.56">3</text><text class="ann" x="520.38" y="110.56">1</text><text class="ann" x="547.62" y="110.56">8</text><text class="ann" x="574.88" y="110.56">7</text><text class="ann" x="602.12" y="110.56">0</text><text class="ann" x="629.38" y="110.56">6</text><text class="ann" x="384.12" y="123.24">7</text><text class="ann" x="411.38" y="123.24">3</text><text class="ann" x="438.62" y="123.24">1</text><text class="ann" x="465.88" y="123.24">8</text><text class="ann" x="493.12" y="123.24">6</text><text class="ann" x="520.38" y="123.24">2</text><text class="ann" x="547.62" y="123.24">9</text><text class="ann" x="574.88" y="123.24">4</text><text class="ann" x="602.12" y="123.24">0</text><text class="ann" x="629.38" y="123.24">5</text><text class="ann" x="384.12" y="135.92">2</text><text class="ann" x="411.38" y="135.92">4</text><text class="ann" x="438.62" y="135.92">7</text><text class="ann" x="465.88" y="135.92">3</text><text class="ann" x="493.12" y="135.92">1</text><text class="ann" x="520.38" y="135.92">5</text><text class="ann" x="547.62" y="135.92">8</text><text class="ann" x="574.88" y="135.92">9</text><text class="ann" x="602.12" y="135.92">0</text><text class="ann" x="629.38" y="135.92">6</text><text class="ann" x="384.12" y="148.60">8</text><text class="ann" x="411.38" y="148.60">5</text><text class="ann" x="438.62" y="148.60">3</text><text class="ann" x="465.88" y="148.60">6</text><text class="ann" x="493.12" y="148.60">4</text><text class="ann" x="520.38" y="148.60">9</text><text class="ann" x="547.62" y="148.60">1</text><text class="ann" x="574.88" y="148.60">2</text><text class="ann" x="602.12" y="148.60">0</text><text class="ann" x="629.38" y="148.60">7</text><text class="ann" x="384.12" y="161.28">7</text><text class="ann" x="411.38" y="161.28">4</text><text class="ann" x="438.62" y="161.28">8</text><text class="ann" x="465.88" y="161.28">3</text><text class="ann" x="493.12" y="161.28">5</text><text class="ann" x="520.38" y="161.28">9</text><text class="ann" x="547.62" y="161.28">0</text><text class="ann" x="574.88" y="161.28">6</text><text class="ann" x="602.12" y="161.28">2</text><text class="ann" x="629.38" y="161.28">1</text><text class="ann" x="384.12" y="173.96">4</text><text class="ann" x="411.38" y="173.96">8</text><text class="ann" x="438.62" y="173.96">5</text><text class="ann" x="465.88" y="173.96">3</text><text class="ann" x="493.12" y="173.96">6</text><text class="ann" x="520.38" y="173.96">0</text><text class="ann" x="547.62" y="173.96">9</text><text class="ann" x="574.88" y="173.96">1</text><text class="ann" x="602.12" y="173.96">2</text><text class="ann" x="629.38" y="173.96">7</text><text class="ann" x="384.12" y="186.64">8</text><text class="ann" x="411.38" y="186.64">4</text><text class="ann" x="438.62" y="186.64">9</text><text class="ann" x="465.88" y="186.64">6</text><text class="ann" x="493.12" y="186.64">2</text><text class="ann" x="520.38" y="186.64">1</text><text class="ann" x="547.62" y="186.64">5</text><text class="ann" x="574.88" y="186.64">3</text><text class="ann" x="602.12" y="186.64">0</text><text class="ann" x="629.38" y="186.64">7</text><text class="ann" x="384.12" y="199.32">7</text><text class="ann" x="411.38" y="199.32">5</text><text class="ann" x="438.62" y="199.32">4</text><text class="ann" x="465.88" y="199.32">3</text><text class="ann" x="493.12" y="199.32">1</text><text class="ann" x="520.38" y="199.32">9</text><text class="ann" x="547.62" y="199.32">8</text><text class="ann" x="574.88" y="199.32">6</text><text class="ann" x="602.12" y="199.32">2</text><text class="ann" x="629.38" y="199.32">0</text><text class="ann" x="384.12" y="212.00">2</text><text class="ann" x="411.38" y="212.00">7</text><text class="ann" x="438.62" y="212.00">8</text><text class="ann" x="465.88" y="212.00">9</text><text class="ann" x="493.12" y="212.00">6</text><text class="ann" x="520.38" y="212.00">0</text><text class="ann" x="547.62" y="212.00">5</text><text class="ann" x="574.88" y="212.00">1</text><text class="ann" x="602.12" y="212.00">4</text><text class="ann" x="629.38" y="212.00">3</text><text class="ann" x="384.12" y="224.68">7</text><text class="ann" x="411.38" y="224.68">9</text><text class="ann" x="438.62" y="224.68">6</text><text class="ann" x="465.88" y="224.68">2</text><text class="ann" x="493.12" y="224.68">4</text><text class="ann" x="520.38" y="224.68">3</text><text class="ann" x="547.62" y="224.68">8</text><text class="ann" x="574.88" y="224.68">1</text><text class="ann" x="602.12" y="224.68">0</text><text class="ann" x="629.38" y="224.68">5</text><text class="ann" x="384.12" y="237.36">9</text><text class="ann" x="411.38" y="237.36">6</text><text class="ann" x="438.62" y="237.36">5</text><text class="ann" x="465.88" y="237.36">4</text><text class="ann" x="493.12" y="237.36">2</text><text class="ann" x="520.38" y="237.36">0</text><text class="ann" x="547.62" y="237.36">1</text><text class="ann" x="574.88" y="237.36">8</text><text class="ann" x="602.12" y="237.36">3</text><text class="ann" x="629.38" y="237.36">7</text><text class="ann" x="384.12" y="250.04">3</text><text class="ann" x="411.38" y="250.04">4</text><text class="ann" x="438.62" y="250.04">8</text><text class="ann" x="465.88" y="250.04">1</text><text class="ann" x="493.12" y="250.04">7</text><text class="ann" x="520.38" y="250.04">2</text><text class="ann" x="547.62" y="250.04">6</text><text class="ann" x="574.88" y="250.04">9</text><text class="ann" x="602.12" y="250.04">0</text><text class="ann" x="629.38" y="250.04">5</text><text class="ann" x="384.12" y="262.72">9</text><text class="ann" x="411.38" y="262.72">3</text><text class="ann" x="438.62" y="262.72">7</text><text class="ann" x="465.88" y="262.72">4</text><text class="ann" x="493.12" y="262.72">1</text><text class="ann" x="520.38" y="262.72">6</text><text class="ann" x="547.62" y="262.72">2</text><text class="ann" x="574.88" y="262.72">0</text><text class="ann" x="602.12" y="262.72">5</text><text class="ann" x="629.38" y="262.72">8</text><text class="ann" x="384.12" y="275.40">0</text><text class="ann" x="411.38" y="275.40">2</text><text class="ann" x="438.62" y="275.40">8</text><text class="ann" x="465.88" y="275.40">7</text><text class="ann" x="493.12" y="275.40">1</text><text class="ann" x="520.38" y="275.40">9</text><text class="ann" x="547.62" y="275.40">6</text><text class="ann" x="574.88" y="275.40">5</text><text class="ann" x="602.12" y="275.40">3</text><text class="ann" x="629.38" y="275.40">4</text></g><rect x="370.5" y="26.5" width="272.20000000000005" height="253.0" fill="none" stroke="#000" stroke-opacity="0.62" stroke-width="1.0"/><line x1="384.12" y1="23.50" x2="384.12" y2="26.5" class="tk"/><line x1="384.12" y1="279.5" x2="384.12" y2="282.50" class="tk"/><text class="tl" x="384.12" y="19.40" text-anchor="middle">0</text><line x1="411.38" y1="23.50" x2="411.38" y2="26.5" class="tk"/><line x1="411.38" y1="279.5" x2="411.38" y2="282.50" class="tk"/><text class="tl" x="411.38" y="19.40" text-anchor="middle">1</text><line x1="438.62" y1="23.50" x2="438.62" y2="26.5" class="tk"/><line x1="438.62" y1="279.5" x2="438.62" y2="282.50" class="tk"/><text class="tl" x="438.62" y="19.40" text-anchor="middle">2</text><line x1="465.88" y1="23.50" x2="465.88" y2="26.5" class="tk"/><line x1="465.88" y1="279.5" x2="465.88" y2="282.50" class="tk"/><text class="tl" x="465.88" y="19.40" text-anchor="middle">3</text><line x1="493.12" y1="23.50" x2="493.12" y2="26.5" class="tk"/><line x1="493.12" y1="279.5" x2="493.12" y2="282.50" class="tk"/><text class="tl" x="493.12" y="19.40" text-anchor="middle">4</text><line x1="520.38" y1="23.50" x2="520.38" y2="26.5" class="tk"/><line x1="520.38" y1="279.5" x2="520.38" y2="282.50" class="tk"/><text class="tl" x="520.38" y="19.40" text-anchor="middle">5</text><line x1="547.62" y1="23.50" x2="547.62" y2="26.5" class="tk"/><line x1="547.62" y1="279.5" x2="547.62" y2="282.50" class="tk"/><text class="tl" x="547.62" y="19.40" text-anchor="middle">6</text><line x1="574.88" y1="23.50" x2="574.88" y2="26.5" class="tk"/><line x1="574.88" y1="279.5" x2="574.88" y2="282.50" class="tk"/><text class="tl" x="574.88" y="19.40" text-anchor="middle">7</text><line x1="602.12" y1="23.50" x2="602.12" y2="26.5" class="tk"/><line x1="602.12" y1="279.5" x2="602.12" y2="282.50" class="tk"/><text class="tl" x="602.12" y="19.40" text-anchor="middle">8</text><line x1="629.38" y1="23.50" x2="629.38" y2="26.5" class="tk"/><line x1="629.38" y1="279.5" x2="629.38" y2="282.50" class="tk"/><text class="tl" x="629.38" y="19.40" text-anchor="middle">9</text><line x1="367.50" y1="32.63" x2="370.5" y2="32.63" class="tk"/><text class="tl" x="365.20" y="35.58" text-anchor="end">0</text><line x1="367.50" y1="45.29" x2="370.5" y2="45.29" class="tk"/><text class="tl" x="365.20" y="48.24" text-anchor="end">1</text><line x1="367.50" y1="57.95" x2="370.5" y2="57.95" class="tk"/><text class="tl" x="365.20" y="60.90" text-anchor="end">2</text><line x1="367.50" y1="70.61" x2="370.5" y2="70.61" class="tk"/><text class="tl" x="365.20" y="73.56" text-anchor="end">3</text><line x1="367.50" y1="83.27" x2="370.5" y2="83.27" class="tk"/><text class="tl" x="365.20" y="86.22" text-anchor="end">4</text><line x1="367.50" y1="95.93" x2="370.5" y2="95.93" class="tk"/><text class="tl" x="365.20" y="98.88" text-anchor="end">5</text><line x1="367.50" y1="108.59" x2="370.5" y2="108.59" class="tk"/><text class="tl" x="365.20" y="111.54" text-anchor="end">6</text><line x1="367.50" y1="121.25" x2="370.5" y2="121.25" class="tk"/><text class="tl" x="365.20" y="124.20" text-anchor="end">7</text><line x1="367.50" y1="133.91" x2="370.5" y2="133.91" class="tk"/><text class="tl" x="365.20" y="136.86" text-anchor="end">8</text><line x1="367.50" y1="146.57" x2="370.5" y2="146.57" class="tk"/><text class="tl" x="365.20" y="149.52" text-anchor="end">9</text><line x1="367.50" y1="159.23" x2="370.5" y2="159.23" class="tk"/><text class="tl" x="365.20" y="162.18" text-anchor="end">10</text><line x1="367.50" y1="171.89" x2="370.5" y2="171.89" class="tk"/><text class="tl" x="365.20" y="174.84" text-anchor="end">11</text><line x1="367.50" y1="184.55" x2="370.5" y2="184.55" class="tk"/><text class="tl" x="365.20" y="187.50" text-anchor="end">12</text><line x1="367.50" y1="197.21" x2="370.5" y2="197.21" class="tk"/><text class="tl" x="365.20" y="200.16" text-anchor="end">13</text><line x1="367.50" y1="209.87" x2="370.5" y2="209.87" class="tk"/><text class="tl" x="365.20" y="212.82" text-anchor="end">14</text><line x1="367.50" y1="222.53" x2="370.5" y2="222.53" class="tk"/><text class="tl" x="365.20" y="225.48" text-anchor="end">15</text><line x1="367.50" y1="235.19" x2="370.5" y2="235.19" class="tk"/><text class="tl" x="365.20" y="238.14" text-anchor="end">16</text><line x1="367.50" y1="247.85" x2="370.5" y2="247.85" class="tk"/><text class="tl" x="365.20" y="250.80" text-anchor="end">17</text><line x1="367.50" y1="260.51" x2="370.5" y2="260.51" class="tk"/><text class="tl" x="365.20" y="263.46" text-anchor="end">18</text><line x1="367.50" y1="273.17" x2="370.5" y2="273.17" class="tk"/><text class="tl" x="365.20" y="276.12" text-anchor="end">19</text><text class="tt" x="506.75" y="10.6" text-anchor="middle" textLength="251.5" lengthAdjust="spacingAndGlyphs">Population Initialization with Random Numbers</text><text class="lb" x="506.75" y="290.8" text-anchor="middle" textLength="51.5" lengthAdjust="spacingAndGlyphs">Aircraft Index</text><text class="lb" transform="translate(350.4,153.00) rotate(-90)" x="0" y="0" text-anchor="middle" textLength="92" lengthAdjust="spacingAndGlyphs">Whale (Individual) Index</text><rect x="660.0" y="26.5" width="12.5" height="253.0" fill="url(#vir)" stroke="#000" stroke-opacity="0.62" stroke-width="1.0"/><line x1="672.5" y1="279.50" x2="675.50" y2="279.50" class="tk"/><text class="tl" x="678.50" y="282.85">0</text><line x1="672.5" y1="251.39" x2="675.50" y2="251.39" class="tk"/><text class="tl" x="678.50" y="254.74">1</text><line x1="672.5" y1="223.28" x2="675.50" y2="223.28" class="tk"/><text class="tl" x="678.50" y="226.62">2</text><line x1="672.5" y1="195.17" x2="675.50" y2="195.17" class="tk"/><text class="tl" x="678.50" y="198.51">3</text><line x1="672.5" y1="167.06" x2="675.50" y2="167.06" class="tk"/><text class="tl" x="678.50" y="170.40">4</text><line x1="672.5" y1="138.94" x2="675.50" y2="138.94" class="tk"/><text class="tl" x="678.50" y="142.29">5</text><line x1="672.5" y1="110.83" x2="675.50" y2="110.83" class="tk"/><text class="tl" x="678.50" y="114.18">6</text><line x1="672.5" y1="82.72" x2="675.50" y2="82.72" class="tk"/><text class="tl" x="678.50" y="86.07">7</text><line x1="672.5" y1="54.61" x2="675.50" y2="54.61" class="tk"/><text class="tl" x="678.50" y="57.96">8</text><line x1="672.5" y1="26.50" x2="675.50" y2="26.50" class="tk"/><text class="tl" x="678.50" y="29.85">9</text><text class="cp" x="45.1" y="310.3">(a) Population distribution graph generated</text><text class="cp" x="90.1" y="334.9">using quantum random numbers</text><text class="cp" x="389.9" y="310.3">(b) Population distribution map generated</text><text class="cp" x="455.2" y="335.1">using program code</text></svg></body></html>
